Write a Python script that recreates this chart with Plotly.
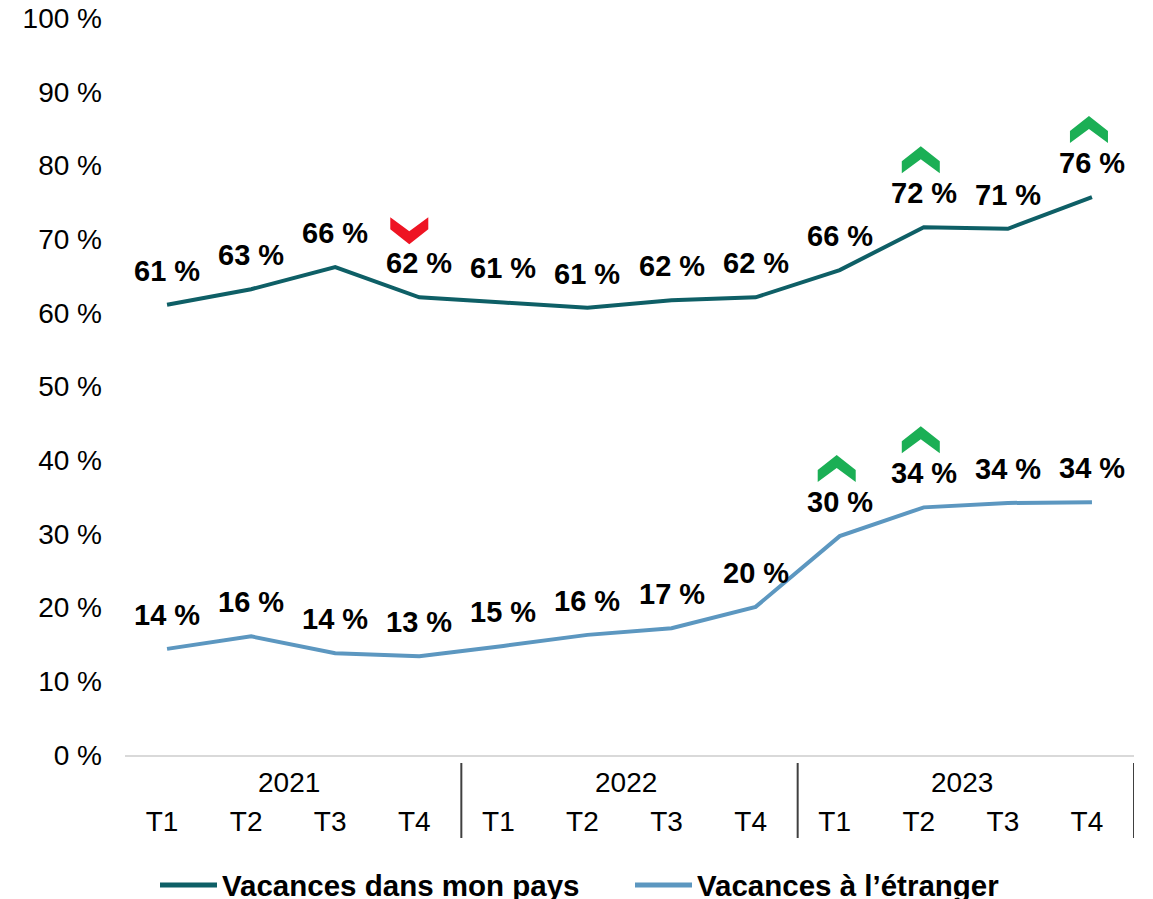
import plotly.graph_objects as go

# --- data ---
years = ["2021", "2022", "2023"]
quarters = ["T1", "T2", "T3", "T4"]

domestic = [61.1, 63.2, 66.2, 62.1, 61.4, 60.7, 61.7, 62.1, 65.8, 71.6, 71.4, 75.7]
abroad = [14.4, 16.1, 13.8, 13.4, 14.8, 16.3, 17.2, 20.1, 29.7, 33.6, 34.2, 34.3]

# trend flags shown as chevrons above the labels
domestic_trend = ["", "", "", "down", "", "", "", "", "", "up", "", "up"]
abroad_trend = ["", "", "", "", "", "", "", "", "up", "up", "", ""]

series_names = ["Vacances dans mon pays", "Vacances à l’étranger"]
y_ticks = [0, 10, 20, 30, 40, 50, 60, 70, 80, 90, 100]

# --- styling ---
DARK = "#0E5F66"
LIGHT = "#5C97C0"
GREEN = "#1BAF55"
RED = "#EE1423"
FONT = "Liberation Sans, Arial, sans-serif"
colors = [DARK, LIGHT]

# figure geometry (page body adds an 8 px margin, so the figure is 8 px smaller)
W, H = 1145, 891
ML, MR, MT, MB = 117, 19, 10, 144
PW, PH = W - ML - MR, H - MT - MB

x_idx = list(range(len(years) * len(quarters)))
tick_text = [q for _ in years for q in quarters]

fig = go.Figure()
for name, vals, color in zip(series_names, (domestic, abroad), colors):
    fig.add_trace(go.Scatter(
        x=x_idx, y=vals, name=name, mode="lines",
        line=dict(color=color, width=4),
        hoverinfo="skip", showlegend=False,
    ))

# data labels, above each point
for vals in (domestic, abroad):
    for xi, v in zip(x_idx, vals):
        fig.add_annotation(
            x=xi, y=v, text=f"<b>{round(v)} %</b>", showarrow=False,
            yshift=34, yanchor="middle",
            font=dict(family=FONT, size=29, color="black"),
        )


def chevron(direction, lift=67):
    # pixel path, y positive upwards, centred ~lift px above the anchor
    pts = [(-19, -1), (0, 14), (19, -1), (19, -13), (0, 1), (-19, -13)]
    if direction == "down":
        pts = [(px - 10, -py) for px, py in pts]
    else:
        pts = [(px - 3, py) for px, py in pts]
    return "M " + " L ".join(f"{px} {py + lift}" for px, py in pts) + " Z"


for vals, trend in ((domestic, domestic_trend), (abroad, abroad_trend)):
    for xi, v, t in zip(x_idx, vals, trend):
        if not t:
            continue
        fig.add_shape(
            type="path", path=chevron(t),
            xsizemode="pixel", ysizemode="pixel",
            xanchor=xi, yanchor=v, xref="x", yref="y",
            fillcolor=GREEN if t == "up" else RED,
            line=dict(width=0),
        )

# year labels and group dividers under the axis
n_q = len(quarters)
for k, yr in enumerate(years):
    fig.add_annotation(
        x=k * n_q + (n_q - 1) / 2, y=0, xref="x", yref="paper",
        text=yr, showarrow=False, yshift=-27, xshift=-4, yanchor="middle",
        font=dict(family=FONT, size=28, color="black"),
    )
for k in range(1, len(years) + 1):
    fig.add_shape(
        type="line", xref="x", yref="paper",
        x0=k * n_q - 0.5, x1=k * n_q - 0.5,
        ysizemode="pixel", yanchor=0, y0=-8, y1=-83,
        line=dict(color="#404040", width=2),
    )

# hand-drawn legend (longer line samples than plotly's own)
leg_y = -130 / PH
leg_starts = [152, 627]
for name, color, x0 in zip(series_names, colors, leg_starts):
    fig.add_shape(
        type="line", xref="paper", yref="paper",
        x0=(x0 - ML) / PW, x1=(x0 + 57 - ML) / PW, y0=leg_y, y1=leg_y,
        line=dict(color=color, width=5),
    )
    fig.add_annotation(
        x=(x0 + 60 - ML) / PW, y=leg_y, xref="paper", yref="paper",
        text=f"<b>{name}</b>", showarrow=False,
        xanchor="left", yanchor="middle",
        font=dict(family=FONT, size=29.5, color="black"),
    )

fig.update_xaxes(
    range=[-0.5, len(x_idx) - 0.5], automargin=False,
    tickmode="array", tickvals=x_idx, ticktext=tick_text,
    ticks="", showgrid=False, zeroline=False,
    showline=True, linecolor="#D9D9D9", linewidth=2,
    ticklabelstandoff=40, ticklabelshift=-5,
    tickfont=dict(family=FONT, size=28, color="black"),
)
fig.update_yaxes(
    range=[0, 100], automargin=False,
    tickmode="array", tickvals=y_ticks, ticktext=[f"{v} %" for v in y_ticks],
    showgrid=False, zeroline=False, showline=False, ticks="",
    ticklabelstandoff=22, ticklabeloverflow="allow",
    tickfont=dict(family=FONT, size=28, color="black"),
)

fig.update_layout(
    width=W, height=H,
    margin=dict(l=ML, r=MR, t=MT, b=MB, autoexpand=False),
    plot_bgcolor="white", paper_bgcolor="white",
    font=dict(family=FONT, size=28, color="black"),
    showlegend=False,
)

fig.write_html("out.html")
